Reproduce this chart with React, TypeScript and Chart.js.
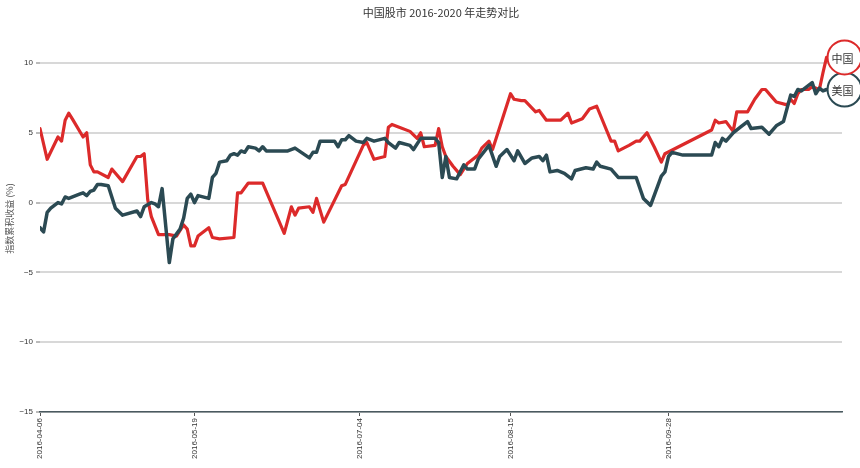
import React, { useEffect, useRef } from 'react';
import { Chart, registerables } from 'chart.js';

Chart.register(...registerables);

// x values are calendar-day offsets from the first date
const BASE_DATE = '2016-04-06';
const xTickDays = [0, 43, 89, 131, 175];
const xTickLabels = ['2016-04-06', '2016-05-19', '2016-07-04', '2016-08-15', '2016-09-28'];
const yTickValues = [-15, -10, -5, 0, 5, 10];

const chinaName = '中国';
const chinaDays = [0, 2, 5, 6, 7, 8, 9, 12, 13, 14, 15, 16, 19, 20, 23, 27, 28, 29, 30, 31, 33, 34, 36, 38, 39, 40, 41, 42, 43, 44, 47, 48, 50, 54, 55, 56, 58, 60, 62, 68, 70, 71, 72, 75, 76, 77, 79, 84, 85, 90, 91, 93, 96, 97, 98, 100, 103, 105, 106, 107, 110, 111, 112, 113, 115, 117, 119, 120, 122, 123, 125, 126, 128, 131, 132, 134, 135, 138, 139, 141, 145, 147, 148, 151, 153, 155, 159, 160, 161, 164, 166, 167, 169, 171, 173, 174, 187, 188, 189, 191, 193, 194, 197, 199, 201, 202, 204, 205, 208, 209, 210, 211, 212, 214, 215, 217, 218, 219];
const chinaValues = [5.3, 3.1, 4.7, 4.4, 5.9, 6.4, 6.0, 4.7, 5.0, 2.7, 2.2, 2.2, 1.8, 2.4, 1.5, 3.3, 3.3, 3.5, 0.2, -1.0, -2.3, -2.3, -2.3, -2.4, -2.0, -1.6, -1.9, -3.1, -3.1, -2.4, -1.8, -2.5, -2.6, -2.5, 0.7, 0.7, 1.4, 1.4, 1.4, -2.2, -0.3, -0.9, -0.4, -0.3, -0.7, 0.3, -1.4, 1.2, 1.3, 4.1, 4.3, 3.1, 3.3, 5.4, 5.6, 5.4, 5.1, 4.6, 5.0, 4.0, 4.1, 5.3, 4.0, 3.3, 2.6, 2.0, 2.8, 3.0, 3.4, 3.9, 4.4, 3.8, 5.4, 7.8, 7.4, 7.3, 7.3, 6.5, 6.6, 5.9, 5.9, 6.4, 5.7, 6.0, 6.7, 6.9, 4.4, 4.4, 3.7, 4.1, 4.4, 4.4, 5.0, 4.0, 2.9, 3.5, 5.2, 5.9, 5.7, 5.8, 5.1, 6.5, 6.5, 7.4, 8.1, 8.1, 7.5, 7.2, 7.0, 7.4, 7.1, 7.8, 8.1, 8.1, 8.3, 8.1, 9.3, 10.4];

const usName = '美国';
const usDays = [0, 1, 2, 3, 5, 6, 7, 8, 11, 12, 13, 14, 15, 16, 17, 19, 21, 23, 27, 28, 29, 31, 32, 33, 34, 36, 37, 39, 40, 41, 42, 43, 44, 47, 48, 49, 50, 52, 53, 54, 55, 56, 57, 58, 60, 61, 62, 63, 66, 69, 71, 75, 76, 77, 78, 82, 83, 84, 85, 86, 88, 90, 91, 93, 96, 97, 99, 100, 103, 104, 106, 110, 111, 112, 113, 114, 116, 118, 119, 121, 122, 125, 127, 128, 130, 132, 133, 135, 137, 139, 140, 141, 142, 144, 146, 148, 149, 152, 154, 155, 156, 159, 161, 166, 168, 170, 173, 174, 175, 176, 179, 187, 188, 189, 190, 191, 193, 195, 197, 198, 201, 203, 205, 207, 209, 210, 211, 212, 215, 216, 217, 218, 219];
const usValues = [-1.8, -2.1, -0.7, -0.4, 0.0, -0.1, 0.4, 0.3, 0.6, 0.7, 0.5, 0.8, 0.9, 1.3, 1.3, 1.2, -0.4, -0.9, -0.6, -1.0, -0.3, 0.0, -0.1, -0.3, 1.0, -4.3, -2.6, -1.9, -1.1, 0.3, 0.6, 0.0, 0.5, 0.3, 1.8, 2.1, 2.9, 3.0, 3.4, 3.5, 3.4, 3.7, 3.6, 4.0, 3.9, 3.7, 4.0, 3.7, 3.7, 3.7, 3.9, 3.2, 3.6, 3.6, 4.4, 4.4, 4.0, 4.5, 4.5, 4.8, 4.4, 4.3, 4.6, 4.4, 4.6, 4.3, 3.9, 4.3, 4.1, 3.8, 4.6, 4.6, 4.3, 1.8, 3.3, 1.8, 1.7, 2.7, 2.4, 2.4, 3.1, 4.1, 2.6, 3.3, 3.8, 3.0, 3.7, 2.8, 3.2, 3.3, 3.0, 3.4, 2.2, 2.3, 2.1, 1.7, 2.3, 2.5, 2.4, 2.9, 2.6, 2.4, 1.8, 1.8, 0.3, -0.2, 1.9, 2.2, 3.3, 3.6, 3.4, 3.4, 4.3, 4.0, 4.6, 4.4, 5.0, 5.4, 5.8, 5.3, 5.4, 4.9, 5.5, 5.8, 7.7, 7.6, 8.1, 8.0, 8.6, 7.8, 8.2, 8.0, 8.1];

const TITLE = '中国股市 2016-2020 年走势对比';
const Y_TITLE = '指数累积收益 (%)';

const RED = '#dc2a2a';
const DARK = '#2b4a53';
const CJK = '"Noto Sans CJK SC", sans-serif';
const LATIN = '"Liberation Sans", Arial, sans-serif';

const toPoints = (days: number[], vals: number[]) => days.map((d, i) => ({ x: d, y: vals[i] }));

const titlePlugin = {
  id: 'customTitle',
  afterDraw(chart: any) {
    const { ctx, chartArea } = chart;
    ctx.save();
    ctx.font = `11px ${CJK}`;
    ctx.fillStyle = '#333';
    ctx.textAlign = 'center';
    ctx.textBaseline = 'middle';
    ctx.fillText(TITLE, (chartArea.left + chartArea.right) / 2, 13);
    ctx.restore();
  },
};

const endLabelPlugin = {
  id: 'endLabels',
  afterDatasetsDraw(chart: any) {
    const ctx = chart.ctx;
    chart.data.datasets.forEach((ds: any, i: number) => {
      const meta = chart.getDatasetMeta(i);
      const pt = meta.data[meta.data.length - 1];
      if (!pt) return;
      const r = 17;
      ctx.save();
      ctx.beginPath();
      ctx.arc(pt.x + r + 1, pt.y, r, 0, Math.PI * 2);
      ctx.fillStyle = 'rgba(255,255,255,0.95)';
      ctx.fill();
      ctx.lineWidth = 2;
      ctx.strokeStyle = ds.borderColor;
      ctx.stroke();
      ctx.fillStyle = '#333';
      ctx.font = `11px ${CJK}`;
      ctx.textAlign = 'left';
      ctx.textBaseline = 'middle';
      ctx.fillText(ds.label, pt.x + 5, pt.y + 1);
      ctx.restore();
    });
  },
};

export default function App() {
  const ref = useRef<HTMLCanvasElement | null>(null);

  useEffect(() => {
    document.body.style.margin = '0';
    const canvas = ref.current;
    if (!canvas) return;
    const chart = new Chart(canvas, {
      type: 'line',
      data: {
        datasets: [
          {
            label: usName,
            data: toPoints(usDays, usValues),
            borderColor: DARK,
            backgroundColor: DARK,
            borderWidth: 3.5,
            pointRadius: 0,
            tension: 0,
            borderJoinStyle: 'round',
            borderCapStyle: 'round',
          },
          {
            label: chinaName,
            data: toPoints(chinaDays, chinaValues),
            borderColor: RED,
            backgroundColor: RED,
            borderWidth: 3.2,
            pointRadius: 0,
            tension: 0,
            borderJoinStyle: 'round',
            borderCapStyle: 'round',
          },
        ],
      },
      options: {
        animation: false,
        responsive: false,
        maintainAspectRatio: false,
        layout: { padding: { top: 25, right: 18, left: 0, bottom: 0 } },
        plugins: {
          legend: { display: false },
          title: { display: false },
          tooltip: { enabled: false },
        },
        scales: {
          x: {
            type: 'linear',
            min: 0,
            max: 223.3,
            afterBuildTicks: (scale: any) => {
              scale.ticks = xTickDays.map((v) => ({ value: v }));
            },
            afterFit: (scale: any) => {
              scale.height = 56;
            },
            ticks: {
              autoSkip: false,
              minRotation: 90,
              maxRotation: 90,
              padding: 2,
              color: '#333',
              font: { family: LATIN, size: 8 },
              callback: (v: any) => {
                const idx = xTickDays.indexOf(Number(v));
                return idx >= 0 ? xTickLabels[idx] : '';
              },
            },
            grid: {
              drawOnChartArea: false,
              drawTicks: true,
              tickLength: 4,
              tickColor: '#555',
              tickWidth: 1,
            },
            border: { display: true, color: '#4a5a60', width: 1.5 },
          },
          y: {
            type: 'linear',
            min: -15,
            max: 12.72,
            afterBuildTicks: (scale: any) => {
              scale.ticks = yTickValues.map((v) => ({ value: v }));
            },
            afterFit: (scale: any) => {
              scale.width = 40;
            },
            ticks: {
              padding: 3,
              color: '#333',
              font: { family: LATIN, size: 8 },
              callback: (v: any) => (Number(v) < 0 ? '\u2212' + Math.abs(Number(v)) : String(v)),
            },
            grid: {
              color: '#d8d8d8',
              lineWidth: 2,
              drawTicks: true,
              tickLength: 4,
              tickColor: '#777',
              tickWidth: 1,
            },
            border: { display: false },
            title: {
              display: true,
              text: Y_TITLE,
              color: '#555',
              font: { family: CJK, size: 9 },
              padding: { top: 4, bottom: 4 },
            },
          },
        },
      },
      plugins: [titlePlugin, endLabelPlugin],
    } as any);
    return () => chart.destroy();
  }, []);

  return (
    <div style={{ position: 'absolute', left: 0, top: 0, width: 860, height: 468 }}>
      <canvas ref={ref} width={860} height={468} />
    </div>
  );
}
